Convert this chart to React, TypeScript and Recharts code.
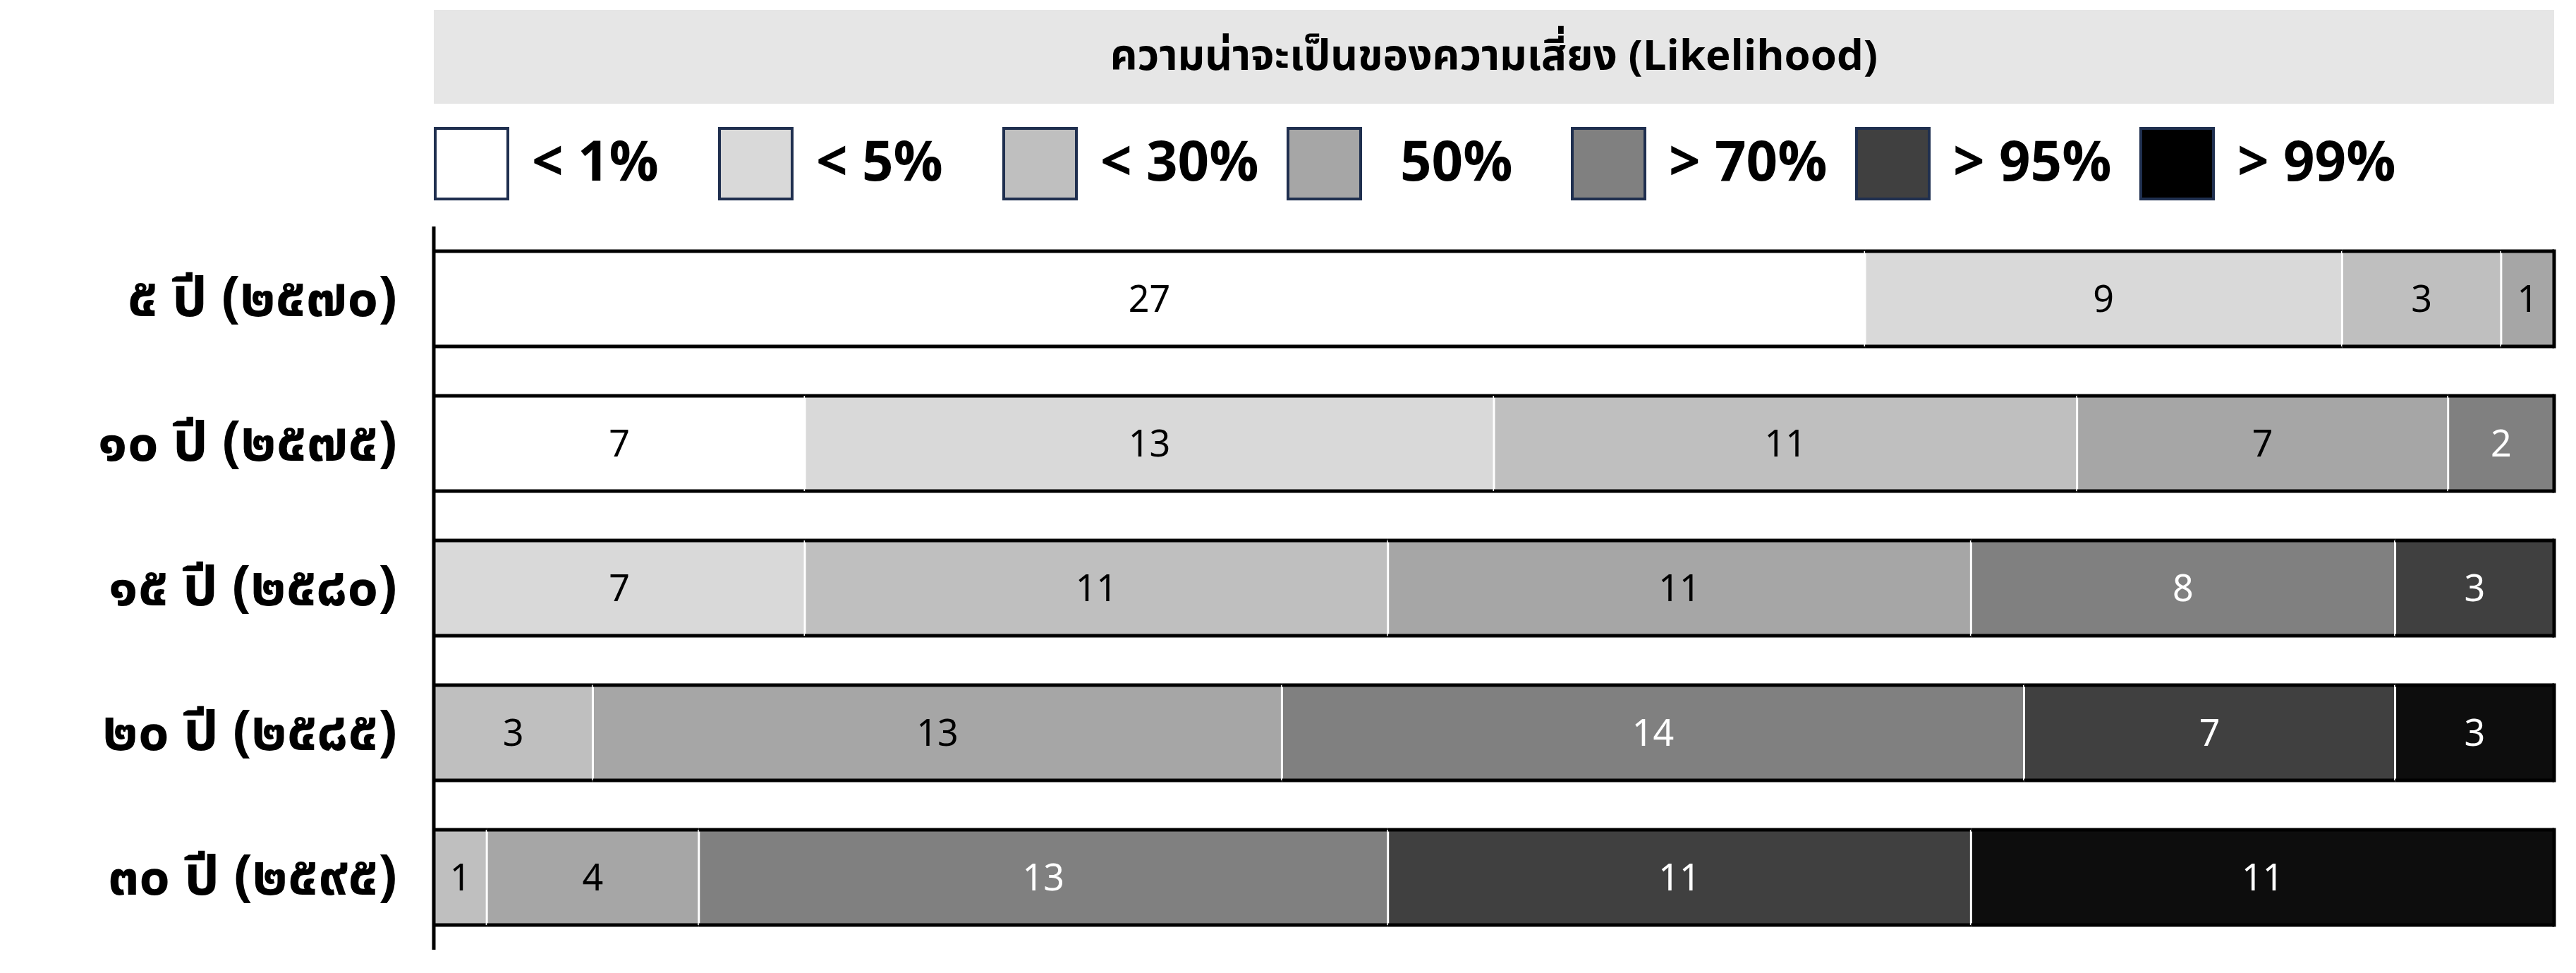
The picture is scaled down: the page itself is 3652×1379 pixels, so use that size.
import { BarChart, Bar, XAxis, YAxis, LabelList } from "recharts";

const periods = ["๕ ปี (๒๕๗๐)", "๑๐ ปี (๒๕๗๕)", "๑๕ ปี (๒๕๘๐)", "๒๐ ปี (๒๕๘๕)", "๓๐ ปี (๒๕๙๕)"];
const levels = ["< 1%", "< 5%", "< 30%", "50%", "> 70%", "> 95%", "> 99%"];

const lt1 = [27, 7, 0, 0, 0];
const lt5 = [9, 13, 7, 0, 0];
const lt30 = [3, 11, 11, 3, 1];
const p50 = [1, 7, 11, 13, 4];
const gt70 = [0, 2, 8, 14, 13];
const gt95 = [0, 0, 3, 7, 11];
const gt99 = [0, 0, 0, 3, 11];

const seriesValues = [lt1, lt5, lt30, p50, gt70, gt95, gt99];
const fills = ["#ffffff", "#d9d9d9", "#bfbfbf", "#a6a6a6", "#808080", "#404040", "#0d0d0d"];
const legendFills = ["#ffffff", "#d9d9d9", "#bfbfbf", "#a6a6a6", "#808080", "#404040", "#000000"];
const labelColors = ["#000", "#000", "#000", "#000", "#fff", "#fff", "#fff"];

const data = periods.map((period, i) => {
  const row: Record<string, string | number> = { period };
  seriesValues.forEach((vals, si) => {
    row[`s${si}`] = vals[i];
  });
  return row;
});

const FONT = "'Noto Sans Thai', 'Noto Sans', 'DejaVu Sans', sans-serif";

function sumRange(payload: any, from: number, to: number) {
  let total = 0;
  for (let k = from; k < to; k++) total += Number(payload[`s${k}`]) || 0;
  return total;
}

function makeShape(si: number) {
  return (props: any) => {
    const { x, y, width, height, payload } = props;
    if (!width || width <= 0) return <g />;
    const before = sumRange(payload, 0, si);
    const after = sumRange(payload, si + 1, seriesValues.length);
    return (
      <g>
        <rect x={x} y={y} width={width} height={height} fill={fills[si]} />
        {before > 0 && <line x1={x} x2={x} y1={y} y2={y + height} stroke="#fff" strokeWidth={3} />}
        <line x1={x} x2={x + width} y1={y} y2={y} stroke="#000" strokeWidth={5} />
        <line x1={x} x2={x + width} y1={y + height} y2={y + height} stroke="#000" strokeWidth={5} />
        {after === 0 && (
          <line x1={x + width} x2={x + width} y1={y - 2.5} y2={y + height + 2.5} stroke="#000" strokeWidth={5} />
        )}
      </g>
    );
  };
}

function PeriodTick({ y, payload }: any) {
  return (
    <text x={563} y={y} textAnchor="end" dominantBaseline="central" fontSize={78} fontWeight={700} fill="#000" fontFamily={FONT}>
      {payload.value}
    </text>
  );
}

export default function App() {
  return (
    <div style={{ position: "absolute", left: 0, top: 0, width: 3652, height: 1379, background: "#fff", fontFamily: FONT }}>
      <div
        style={{
          position: "absolute",
          left: 615,
          top: 14,
          width: 3006,
          height: 133,
          background: "#e6e6e6",
          display: "flex",
          alignItems: "center",
          justifyContent: "center",
          fontSize: 60,
          fontWeight: 700,
          color: "#000",
        }}
      >
        ความน่าจะเป็นของความเสี่ยง (Likelihood)
      </div>
      {levels.map((name, i) => (
        <div
          key={name}
          style={{ position: "absolute", left: 615 + i * 403, top: 180, height: 104, display: "flex", alignItems: "center" }}
        >
          <div
            style={{
              width: 107,
              height: 104,
              boxSizing: "border-box",
              border: "4px solid #1f2f4f",
              background: legendFills[i],
            }}
          />
          <span style={{ marginLeft: name === "50%" ? 54 : 32, fontSize: 78, fontWeight: 700, whiteSpace: "nowrap" }}>{name}</span>
        </div>
      ))}
      <BarChart
        width={3652}
        height={1379}
        data={data}
        layout="vertical"
        margin={{ top: 321, right: 31, bottom: 33, left: 0 }}
        barSize={135}
      >
        <XAxis type="number" domain={[0, 40]} hide />
        <YAxis
          type="category"
          dataKey="period"
          width={615}
          axisLine={{ stroke: "#000", strokeWidth: 5 }}
          tickLine={false}
          tick={<PeriodTick />}
        />
        {levels.map((name, si) => (
          <Bar key={name} dataKey={`s${si}`} name={name} stackId="a" fill={fills[si]} shape={makeShape(si)} isAnimationActive={false}>
            <LabelList
              dataKey={`s${si}`}
              position="center"
              formatter={(v: any) => (v ? v : "")}
              fill={labelColors[si]}
              fontSize={52}
              fontFamily={FONT}
            />
          </Bar>
        ))}
      </BarChart>
    </div>
  );
}
